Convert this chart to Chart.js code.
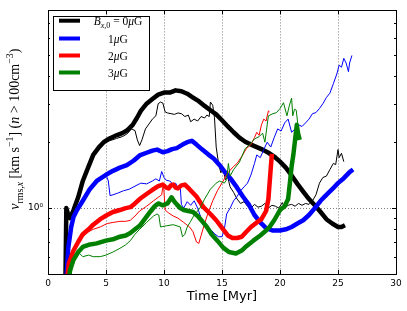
<!DOCTYPE html>
<html>
<head>
<meta charset="utf-8">
<script src="https://cdn.jsdelivr.net/npm/chart.js@4.4.1/dist/chart.umd.min.js"></script>
<style>
  html, body { margin: 0; padding: 0; background: #fff; }
  #wrap { width: 407px; height: 311px; position: relative; }
</style>
</head>
<body>
<div id="wrap"><canvas id="chart"></canvas></div>
<script>
// tiempos en Myr, valores en km/s
const blackThickT = [1.5, 1.58, 1.75, 1.9, 2.2, 2.6, 3.0, 3.5, 3.9, 4.4, 4.8, 5.3, 5.9, 6.4, 6.8, 7.3, 7.7, 8.0, 8.5, 9.0, 9.5, 10.0, 10.5, 11.0, 11.5, 12.0, 12.5, 13.0, 13.5, 14.0, 14.5, 15.0, 15.5, 16.0, 16.5, 17.0, 17.5, 18.0, 18.5, 19.0, 19.5, 20.0, 20.5, 21.0, 21.5, 22.0, 22.5, 23.0, 23.5, 24.0, 24.5, 25.0, 25.3, 25.6];
const blackThickV = [0.45, 1.0, 0.93, 0.9, 0.98, 1.12, 1.33, 1.55, 1.75, 1.9, 2.0, 2.08, 2.15, 2.2, 2.26, 2.4, 2.6, 2.78, 3.0, 3.15, 3.3, 3.37, 3.37, 3.45, 3.42, 3.33, 3.2, 3.08, 2.93, 2.8, 2.68, 2.52, 2.36, 2.22, 2.1, 2.01, 1.95, 1.9, 1.85, 1.79, 1.72, 1.63, 1.53, 1.41, 1.29, 1.19, 1.1, 1.03, 0.96, 0.89, 0.85, 0.82, 0.82, 0.835];

const blackThinT = [1.5, 1.58, 1.75, 1.9, 2.2, 2.6, 3.0, 3.5, 3.9, 4.4, 4.8, 5.3, 5.9, 6.4, 6.8, 7.2, 7.5, 7.7, 7.9, 8.1, 8.4, 8.7, 9.0, 9.3, 9.5, 9.7, 9.9, 10.1, 10.3, 10.6, 10.9, 11.2, 11.5, 11.8, 12.1, 12.3, 12.6, 12.9, 13.2, 13.5, 13.7, 13.9, 14.0, 14.2, 14.35, 14.5, 14.7, 14.9, 15.1, 15.3, 15.5, 15.7, 16.0, 16.3, 16.6, 16.9, 17.2, 17.5, 17.8, 18.1, 18.4, 18.7, 19.0, 19.3, 19.6, 19.9, 20.2, 20.4, 20.7, 21.0, 21.3, 21.6, 21.9, 22.2, 22.5, 22.8, 23.1, 23.4, 23.7, 24.0, 24.3, 24.6, 24.8, 25.0, 25.1, 25.3, 25.5];
const blackThinV = [0.45, 1.0, 0.93, 0.9, 0.98, 1.12, 1.33, 1.55, 1.72, 1.88, 1.97, 2.03, 2.08, 2.12, 2.18, 2.3, 2.26, 2.05, 1.93, 2.05, 2.3, 2.42, 2.55, 2.64, 3.0, 3.05, 3.02, 2.75, 2.72, 2.7, 2.68, 2.72, 2.7, 2.62, 2.66, 2.48, 2.55, 2.5, 2.62, 2.58, 2.66, 2.62, 3.05, 2.95, 2.6, 1.9, 1.6, 1.45, 1.5, 1.35, 1.38, 1.25, 1.18, 1.1, 1.05, 1.07, 1.02, 1.0, 1.04, 1.01, 1.02, 1.05, 1.0, 1.03, 1.02, 1.0, 1.06, 1.0, 1.03, 1.04, 1.02, 1.05, 1.03, 1.05, 1.04, 1.08, 1.15, 1.3, 1.38, 1.4, 1.5, 1.6, 1.58, 1.85, 1.7, 1.78, 1.63];

const blueThickT = [1.55, 1.75, 2.0, 2.2, 2.5, 3.0, 3.6, 4.2, 5.0, 5.6, 6.2, 6.8, 7.4, 7.9, 8.5, 9.0, 9.4, 9.9, 10.3, 10.7, 11.1, 11.6, 12.0, 12.4, 12.8, 13.3, 13.8, 14.3, 14.8, 15.3, 15.8, 16.3, 16.8, 17.3, 17.8, 18.3, 18.8, 19.4, 20.0, 20.5, 21.0, 21.5, 22.0, 22.5, 23.0, 23.5, 24.0, 24.5, 25.0, 25.5, 26.0, 26.3];
const blueThickV = [0.45, 0.66, 0.82, 0.91, 0.98, 1.08, 1.22, 1.33, 1.42, 1.48, 1.53, 1.57, 1.65, 1.74, 1.79, 1.83, 1.85, 1.8, 1.82, 1.86, 1.88, 1.95, 2.0, 2.03, 1.95, 1.85, 1.76, 1.68, 1.57, 1.45, 1.35, 1.24, 1.13, 1.04, 0.93, 0.86, 0.81, 0.79, 0.79, 0.8, 0.82, 0.85, 0.88, 0.93, 1.0, 1.08, 1.15, 1.22, 1.3, 1.37, 1.46, 1.5];

const blueThinT = [1.55, 1.75, 2.0, 2.2, 2.5, 3.0, 3.6, 4.2, 4.7, 5.0, 5.2, 5.35, 5.6, 6.0, 6.5, 7.0, 7.5, 8.0, 8.5, 9.0, 9.3, 9.6, 9.8, 10.0, 10.2, 10.5, 10.8, 11.0, 11.2, 11.4, 11.5, 11.7, 12.0, 12.3, 12.6, 12.9, 13.2, 13.5, 13.8, 14.1, 14.4, 14.7, 15.0, 15.2, 15.4, 15.7, 16.0, 16.3, 16.6, 16.9, 17.2, 17.5, 17.8, 18.0, 18.3, 18.6, 18.9, 19.2, 19.5, 19.8, 20.1, 20.4, 20.7, 21.0, 21.3, 21.6, 21.9, 22.2, 22.5, 22.8, 23.1, 23.4, 23.7, 24.0, 24.3, 24.6, 24.9, 25.1, 25.3, 25.5, 25.7, 25.9, 26.0, 26.2];
const blueThinV = [0.45, 0.66, 0.82, 0.91, 0.98, 1.08, 1.2, 1.3, 1.37, 1.42, 1.33, 1.14, 1.15, 1.17, 1.2, 1.22, 1.26, 1.3, 1.29, 1.33, 1.36, 1.33, 1.47, 1.38, 1.34, 1.33, 1.28, 1.3, 1.24, 1.25, 1.04, 1.0, 1.07, 1.03, 1.08, 1.0, 0.9, 0.85, 0.82, 0.79, 0.76, 0.74, 0.74, 0.8, 0.94, 1.0, 1.08, 1.13, 1.2, 1.25, 1.3, 1.42, 1.6, 1.75, 1.7, 1.85, 2.0, 1.9, 2.1, 2.3, 2.25, 2.45, 2.55, 2.22, 2.3, 2.4, 2.36, 2.45, 2.55, 2.7, 2.73, 2.85, 3.0, 3.2, 3.35, 3.7, 4.1, 4.5, 4.4, 4.83, 4.6, 4.2, 4.6, 4.98];

const redThickT = [1.6, 1.8, 2.0, 2.2, 2.6, 3.0, 3.5, 3.9, 4.5, 5.1, 5.6, 6.2, 6.7, 7.1, 7.5, 7.9, 8.5, 9.1, 9.5, 9.9, 10.2, 10.4, 10.6, 10.8, 11.0, 11.2, 11.5, 11.8, 12.2, 12.8, 13.4, 14.0, 14.5, 15.1, 15.5, 15.9, 16.3, 16.7, 17.1, 17.5, 18.0, 18.4, 18.8, 19.0, 19.15, 19.3];
const redThickV = [0.45, 0.56, 0.6, 0.64, 0.7, 0.76, 0.8, 0.84, 0.89, 0.93, 0.96, 0.98, 1.0, 1.01, 1.05, 1.1, 1.16, 1.22, 1.26, 1.28, 1.24, 1.23, 1.27, 1.28, 1.24, 1.23, 1.27, 1.28, 1.22, 1.13, 1.01, 0.94, 0.88, 0.8, 0.75, 0.73, 0.73, 0.74, 0.78, 0.82, 0.86, 0.89, 0.97, 1.1, 1.4, 1.77];

const redThinT = [1.6, 1.8, 2.0, 2.2, 2.6, 3.0, 3.5, 3.9, 4.5, 5.1, 5.6, 6.2, 6.7, 7.1, 7.5, 7.9, 8.5, 9.1, 9.5, 9.8, 9.95, 10.1, 10.4, 10.8, 11.2, 11.7, 12.2, 12.5, 12.8, 13.0, 13.2, 13.5, 13.8, 14.2, 14.6, 15.1, 15.5, 16.0, 16.3, 16.7, 17.1, 17.5, 17.8, 18.0, 18.2, 18.4, 18.6, 18.8, 19.0, 19.1];
const redThinV = [0.45, 0.56, 0.6, 0.64, 0.7, 0.74, 0.78, 0.8, 0.82, 0.85, 0.86, 0.87, 0.87, 0.88, 0.92, 0.97, 1.02, 1.08, 1.12, 1.15, 1.3, 0.98, 0.95, 0.92, 0.9, 0.86, 0.82, 0.78, 0.7, 0.69, 0.75, 0.85, 0.95, 1.08, 1.2, 1.33, 1.45, 1.55, 1.6, 1.72, 1.87, 1.95, 2.1, 2.22, 2.15, 2.4, 2.55, 2.5, 2.78, 2.75];

const greenThickT = [1.75, 1.9, 2.2, 2.6, 3.0, 3.5, 4.2, 5.0, 5.6, 6.2, 6.7, 7.1, 7.5, 7.9, 8.4, 8.8, 9.2, 9.5, 9.9, 10.3, 10.65, 10.9, 11.1, 11.4, 11.7, 12.1, 12.5, 12.9, 13.3, 13.7, 14.1, 14.6, 15.1, 15.6, 16.2, 16.7, 17.1, 17.7, 18.3, 18.8, 19.1, 19.5, 20.0, 20.4, 20.7, 20.85, 21.0, 21.15, 21.3, 21.45, 21.55, 21.7];
const greenThickV = [0.45, 0.52, 0.58, 0.63, 0.665, 0.68, 0.69, 0.71, 0.72, 0.74, 0.75, 0.77, 0.8, 0.83, 0.9, 0.96, 1.02, 1.05, 1.03, 1.05, 1.12, 1.07, 1.04, 1.0, 0.98, 0.97, 0.96, 0.92, 0.87, 0.82, 0.76, 0.71, 0.66, 0.63, 0.62, 0.64, 0.67, 0.71, 0.75, 0.79, 0.82, 0.88, 0.98, 1.02, 1.1, 1.3, 1.55, 1.75, 2.05, 2.4, 2.2, 2.05];

const greenThinT = [1.9, 2.1, 2.3, 2.6, 3.0, 3.5, 3.9, 4.5, 5.0, 5.6, 6.2, 6.7, 7.1, 7.5, 7.9, 8.5, 9.1, 9.4, 9.55, 9.7, 10.2, 10.8, 11.4, 11.6, 11.8, 12.0, 12.3, 12.6, 13.1, 13.5, 14.0, 14.5, 14.8, 15.2, 15.4, 15.55, 15.7, 16.0, 16.5, 17.0, 17.4, 17.8, 18.2, 18.5, 18.7, 19.0, 19.4, 19.7, 20.0, 20.3, 20.6, 20.8, 21.0, 21.1, 21.25, 21.4, 21.58];
const greenThinV = [0.45, 0.55, 0.6, 0.63, 0.6, 0.61, 0.6, 0.6, 0.61, 0.63, 0.655, 0.68, 0.71, 0.76, 0.8, 0.86, 0.92, 0.94, 0.93, 0.82, 0.83, 0.84, 0.82, 0.74, 0.76, 0.82, 0.87, 0.93, 1.0, 1.1, 1.22, 1.3, 1.33, 1.3, 1.35, 1.6, 1.4, 1.5, 1.62, 1.87, 1.95, 2.07, 2.12, 2.2, 2.0, 2.64, 2.7, 2.73, 2.85, 3.03, 2.64, 2.93, 3.18, 2.64, 2.83, 2.8, 2.3];

const xTicks = [0, 5, 10, 15, 20, 25, 30];
const yTicks = [0.5, 0.6, 0.7, 0.8, 0.9, 1, 2, 3, 4, 5, 6, 7, 8];
const legendLabels = [
  [{ t: 'B', it: true }, { t: 'x,', it: true, sub: true }, { t: '0', sub: true }, { t: ' = 0' }, { t: 'μ', it: true }, { t: 'G' }],
  [{ t: '1' }, { t: 'μ', it: true }, { t: 'G' }],
  [{ t: '2' }, { t: 'μ', it: true }, { t: 'G' }],
  [{ t: '3' }, { t: 'μ', it: true }, { t: 'G' }]
];
const yTitle = [
  { t: 'v', it: true }, { t: 'rms,', sub: true }, { t: 'x', it: true, sub: true },
  { t: ' [km s' }, { t: '−1', sup: true }, { t: '] (' }, { t: 'n', it: true },
  { t: ' > 100cm' }, { t: '−3', sup: true }, { t: ')' }
];

const colores = ['#000000', '#0000ff', '#ff0000', '#008000'];
const series = [
  [blackThickT, blackThickV, blackThinT, blackThinV],
  [blueThickT, blueThickV, blueThinT, blueThinV],
  [redThickT, redThickV, redThinT, redThinV],
  [greenThickT, greenThickV, greenThinT, greenThinV]
];

const puntos = (ts, vs) => ts.map((t, i) => ({ x: t, y: vs[i] }));
const datasets = [];
series.forEach((s, k) => {
  datasets.push({ data: puntos(s[0], s[1]), borderColor: colores[k], borderWidth: 4.5 });
  datasets.push({ data: puntos(s[2], s[3]), borderColor: colores[k], borderWidth: 1 });
});
datasets.forEach((d, i) => {
  d.pointRadius = 0;
  d.fill = false;
  d.tension = 0;
  d.clip = 0;
  d.order = datasets.length - i;
  d.borderJoinStyle = 'round';
  d.borderCapStyle = 'butt';
});

const SERIF = '"Liberation Serif", "DejaVu Serif", serif';

function richText(ctx, segs, x, y, size, align) {
  const ps = segs.map(s => {
    const fs = (s.sub || s.sup) ? size * 0.7 : size;
    const font = (s.it ? 'italic ' : '') + fs + 'px ' + SERIF;
    ctx.font = font;
    return { s, font, w: ctx.measureText(s.t).width, dy: s.sub ? size * 0.25 : (s.sup ? -size * 0.42 : 0) };
  });
  const total = ps.reduce((a, p) => a + p.w, 0);
  let cx = align === 'center' ? x - total / 2 : x;
  ps.forEach(p => {
    ctx.font = p.font;
    ctx.fillText(p.s.t, cx, y + p.dy);
    cx += p.w;
  });
}

const marco = {
  id: 'marco',
  beforeDatasetsDraw(chart) {
    const { ctx, chartArea: a, scales } = chart;
    ctx.save();
    ctx.strokeStyle = 'rgba(0,0,0,0.5)';
    ctx.lineWidth = 1;
    ctx.setLineDash([1, 2]);
    xTicks.slice(1, -1).forEach(v => {
      const px = Math.round(scales.x.getPixelForValue(v)) + 0.5;
      ctx.beginPath(); ctx.moveTo(px, a.top); ctx.lineTo(px, a.bottom); ctx.stroke();
    });
    const py = Math.round(scales.y.getPixelForValue(1)) + 0.5;
    ctx.beginPath(); ctx.moveTo(a.left, py); ctx.lineTo(a.right, py); ctx.stroke();
    ctx.restore();
  },
  afterDraw(chart) {
    const { ctx, chartArea: a, scales } = chart;
    ctx.save();
    ctx.strokeStyle = '#000';
    ctx.lineWidth = 1;
    // marcas hacia adentro
    ctx.beginPath();
    xTicks.forEach(v => {
      const px = Math.round(scales.x.getPixelForValue(v)) + 0.5;
      ctx.moveTo(px, a.bottom); ctx.lineTo(px, a.bottom - 4);
      ctx.moveTo(px, a.top); ctx.lineTo(px, a.top + 4);
    });
    yTicks.forEach(v => {
      const py = Math.round(scales.y.getPixelForValue(v)) + 0.5;
      const len = v === 1 ? 4 : 2;
      ctx.moveTo(a.left, py); ctx.lineTo(a.left + len, py);
      ctx.moveTo(a.right, py); ctx.lineTo(a.right - len, py);
    });
    ctx.stroke();
    ctx.strokeRect(Math.round(a.left) + 0.5, Math.round(a.top) + 0.5, Math.round(a.right - a.left), Math.round(a.bottom - a.top));

    // leyenda
    const lx = a.left + 5, ly = a.top + 6, lw = 96, lh = 74;
    ctx.fillStyle = '#fff';
    ctx.fillRect(lx, ly, lw, lh);
    ctx.strokeRect(Math.round(lx) + 0.5, Math.round(ly) + 0.5, lw, lh);
    const filas = [20.7, 38.5, 55.5, 72.5];
    ctx.textBaseline = 'alphabetic';
    filas.forEach((fy, k) => {
      ctx.strokeStyle = colores[k];
      ctx.lineWidth = 4;
      ctx.beginPath(); ctx.moveTo(lx + 6, fy); ctx.lineTo(lx + 27, fy); ctx.stroke();
      ctx.fillStyle = '#000';
      richText(ctx, legendLabels[k], lx + 65, fy + 4, 11.5, 'center');
    });

    // titulo del eje y
    ctx.fillStyle = '#000';
    ctx.translate(19, (a.top + a.bottom) / 2 - 13);
    ctx.rotate(-Math.PI / 2);
    richText(ctx, yTitle, 0, 0, 14, 'center');
    ctx.restore();
  }
};

new Chart(document.getElementById('chart'), {
  type: 'line',
  data: { datasets },
  options: {
    responsive: true,
    maintainAspectRatio: false,
    animation: false,
    layout: { padding: { top: 5, right: 11, left: 0, bottom: 0 } },
    plugins: { legend: { display: false }, tooltip: { enabled: false } },
    scales: {
      x: {
        type: 'linear',
        min: 0, max: 30,
        afterBuildTicks: s => { s.ticks = xTicks.map(v => ({ value: v })); },
        afterFit: s => { s.height = 37; },
        grid: { display: false, drawTicks: false },
        border: { display: false },
        ticks: { color: '#000', font: { family: '"DejaVu Sans"', size: 9 }, padding: 4, maxRotation: 0, autoSkip: false },
        title: { display: true, text: 'Time [Myr]', color: '#000', font: { family: '"DejaVu Sans"', size: 13 }, padding: { top: 0, bottom: 7 } }
      },
      y: {
        type: 'logarithmic',
        min: 0.5, max: 8,
        afterBuildTicks: s => { s.ticks = yTicks.map(v => ({ value: v })); },
        afterFit: s => { s.width = 48; },
        grid: { display: false, drawTicks: false },
        border: { display: false },
        ticks: {
          color: '#000', font: { family: '"DejaVu Sans"', size: 9 }, padding: 5, autoSkip: false,
          callback: v => (v === 1 ? '10⁰' : '')
        }
      }
    }
  },
  plugins: [marco]
});
</script>
</body>
</html>
